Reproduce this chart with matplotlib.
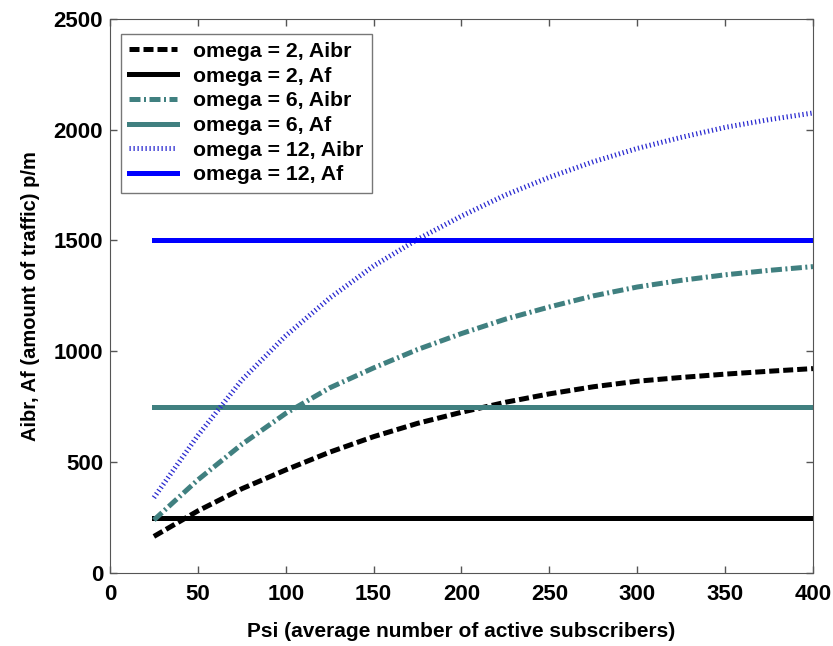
import numpy as np
import matplotlib
matplotlib.use("Agg")
import matplotlib.pyplot as plt

plt.rcParams['font.family'] = ['Liberation Sans', 'DejaVu Sans']
plt.rcParams['font.weight'] = 'bold'

# psi values (average number of active subscribers)
psi = [25, 50, 75, 100, 125, 150, 175, 200, 225, 250, 275, 300, 325, 350, 375, 400]

# Aibr curves
aibr_w2 = [165, 280, 380, 465, 545, 615, 675, 725, 770, 808, 840, 865, 882, 897, 910, 922]
aibr_w6 = [239, 420, 580, 720, 835, 925, 1008, 1080, 1145, 1200, 1250, 1290, 1320, 1345, 1365, 1382]
aibr_w12 = [340, 620, 870, 1070, 1240, 1385, 1505, 1610, 1705, 1785, 1855, 1915, 1965, 2010, 2045, 2075]

# Af levels (constant)
af_w2 = 250
af_w6 = 750
af_w12 = 1500

teal = '#408080'

fig = plt.figure(figsize=(8.33, 6.46), dpi=100)
ax = fig.add_axes([0.132, 0.113, 0.844, 0.858])

ax.plot(psi, aibr_w2, color='black', lw=3.6, linestyle=(0, (2.0, 0.8)),
        dash_capstyle='butt', label='omega = 2, Aibr')
ax.plot(psi, [af_w2] * len(psi), color='black', lw=3.6, label='omega = 2, Af')
ax.plot(psi, aibr_w6, color=teal, lw=3.6, linestyle=(0, (2.2, 0.7, 0.4, 0.7)),
        label='omega = 6, Aibr')
ax.plot(psi, [af_w6] * len(psi), color=teal, lw=3.6, label='omega = 6, Af')
ax.plot(psi, aibr_w12, color='#2a2ad0', lw=3.6, linestyle=(0, (0.25, 0.55)),
        dash_capstyle='butt', label='omega = 12, Aibr')
ax.plot(psi, [af_w12] * len(psi), color='#0000ff', lw=3.6, label='omega = 12, Af')

ax.set_xlim(0, 400)
ax.set_ylim(0, 2500)
ax.set_xticks(np.arange(0, 401, 50))
ax.set_yticks(np.arange(0, 2501, 500))
ax.tick_params(direction='in', top=True, right=True, length=5, width=1,
               color='#555555', labelsize=16)
ax.tick_params(axis='x', pad=8)
ax.tick_params(axis='y', pad=5)
for lab in ax.get_xticklabels() + ax.get_yticklabels():
    lab.set_fontweight('bold')
for s in ax.spines.values():
    s.set_color('#555555')

ax.set_xlabel('Psi (average number of active subscribers)', fontsize=15,
              fontweight='bold', labelpad=12)
ax.set_ylabel('Aibr, Af (amount of traffic) p/m', fontsize=14.5,
              fontweight='bold', labelpad=10)

leg = ax.legend(loc='upper left', bbox_to_anchor=(0.015, 0.973), fontsize=15.3,
                frameon=True, fancybox=False, edgecolor='#555555',
                handlelength=2.3, labelspacing=0.27, borderpad=0.38,
                handletextpad=0.75, borderaxespad=0.0)
leg.get_frame().set_linewidth(1)

fig.savefig('out.png', dpi=100)
